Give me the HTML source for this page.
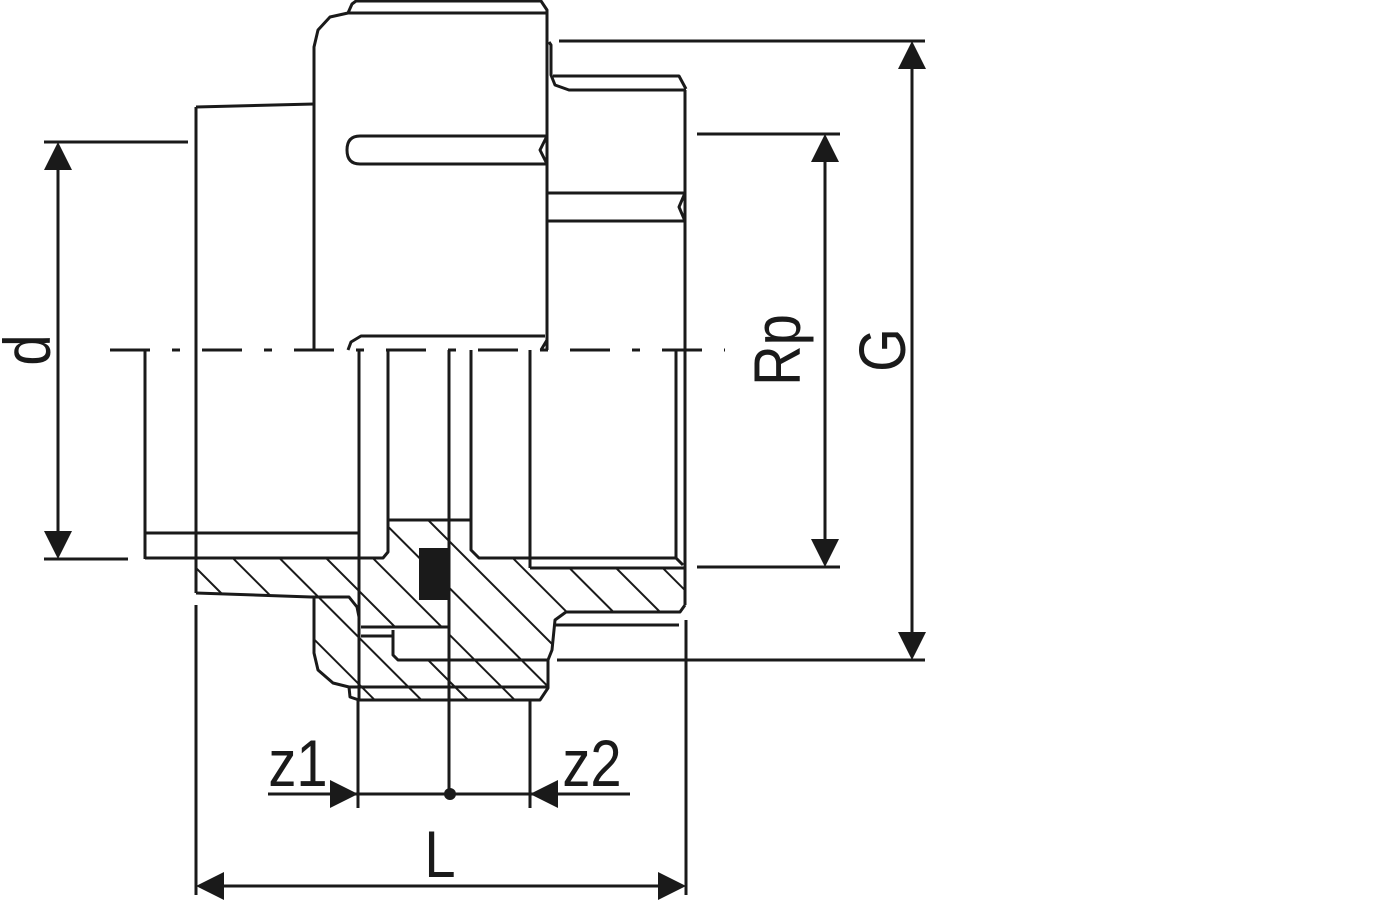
<!DOCTYPE html>
<html><head><meta charset="utf-8"><style>
html,body{margin:0;padding:0;background:#fff;}
svg{display:block;}
text{font-family:"Liberation Sans",sans-serif;fill:#1a1a1a;}
</style></head><body>
<svg width="1400" height="900" viewBox="0 0 1400 900" xmlns="http://www.w3.org/2000/svg">
<defs>
<pattern id="h" patternUnits="userSpaceOnUse" width="33" height="33" patternTransform="rotate(-45)">
<line x1="0" y1="0" x2="0" y2="33" stroke="#1a1a1a" stroke-width="4"/>
</pattern>
</defs>
<g stroke="#1a1a1a" stroke-width="3" fill="none" stroke-linejoin="round">
<polygon fill="url(#h)" stroke="none" points="196,559 388,559 388,520 471,520 471,548 479,558 530,558 530,568 685,568 685,605 680,612 566,612 552,627 552,655 548,688 540,700 359,700 350,697 349,687 333,683 318,670 314,653 314,597 196,593"/>
<rect x="393" y="628" width="56" height="32" fill="#fff" stroke="none"/>
<rect x="359" y="628" width="34" height="8" fill="#fff" stroke="none"/>
<rect x="419" y="548" width="30" height="52" fill="#1a1a1a" stroke="none"/>
<polyline points="196,593 311,597 349,597 357,607 359,617"/>
<polyline points="388,350 388,552 383,558 145,558"/>
<line x1="145" y1="533" x2="359" y2="533"/>
<line x1="145" y1="350" x2="145" y2="559"/>
<line x1="196" y1="107" x2="196" y2="593"/>
<line x1="388" y1="520" x2="471" y2="520"/>
<polyline points="471,350 471,550 479,558 676,558 683,565"/>
<line x1="530" y1="350" x2="530" y2="568"/>
<line x1="530" y1="568" x2="685" y2="568"/>
<line x1="676" y1="350" x2="676" y2="558"/>
<line x1="685" y1="90" x2="685" y2="605"/>
<polyline points="685,605 680,612 566,612 555,620 552,650 548,660"/>
<line x1="554" y1="625" x2="679" y2="625"/>
<polyline points="314,597 314,653 318,670 333,683 349,687 350,697 359,700 540,700 548,688 548,660"/>
<line x1="349" y1="687" x2="548" y2="687"/>
<line x1="361" y1="627" x2="449" y2="627"/>
<line x1="361" y1="636" x2="393" y2="636"/>
<polyline points="393,630 393,655 398,660 548,660"/>
<line x1="359" y1="350" x2="359" y2="700"/>
<polyline points="314,350 314,47 318,30 330,17 348,13 352,4 356,1 541,1 547,10 547,350"/>
<line x1="348" y1="13" x2="547" y2="13"/>
<polyline points="196,107 314,104"/>
<path d="M547,136 L360,136 Q347,136 347,150 Q347,164 360,164 L547,164"/>
<polyline points="547,136 540,150 547,164"/>
<polyline points="348,350 351,342 361,336 545,336"/>
<polyline points="541,350 547,340"/>
<polyline points="549,42 551,45 551,75 555,85 569,90 686,90"/>
<polyline points="553,76 679,76 686,89"/>
<line x1="548" y1="193" x2="685" y2="193"/>
<line x1="548" y1="221" x2="685" y2="221"/>
<polyline points="685,193 679,207 685,221"/>
<line x1="110" y1="350" x2="725" y2="350" stroke-dasharray="40,22,8,22"/>
<line x1="449" y1="350" x2="449" y2="795"/>
<line x1="44" y1="142" x2="188" y2="142"/>
<line x1="44" y1="559" x2="128" y2="559"/>
<line x1="58" y1="150" x2="58" y2="550"/>
<line x1="697" y1="134" x2="840" y2="134"/>
<line x1="697" y1="567" x2="840" y2="567"/>
<line x1="825" y1="140" x2="825" y2="560"/>
<line x1="559" y1="41" x2="925" y2="41"/>
<line x1="557" y1="660" x2="925" y2="660"/>
<line x1="912" y1="48" x2="912" y2="652"/>
<line x1="358" y1="700" x2="358" y2="808"/>
<line x1="530" y1="700" x2="530" y2="808"/>
<line x1="196" y1="605" x2="196" y2="895"/>
<line x1="686" y1="620" x2="686" y2="895"/>
<line x1="268" y1="794" x2="630" y2="794"/>
<line x1="200" y1="886" x2="682" y2="886"/>
</g>
<g fill="#1a1a1a">
<polygon points="58,142 44,170 72,170"/>
<polygon points="58,559 44,531 72,531"/>
<polygon points="825,134 811,162 839,162"/>
<polygon points="825,567 811,539 839,539"/>
<polygon points="912,41 898,69 926,69"/>
<polygon points="912,660 898,632 926,632"/>
<polygon points="358,794 330,780 330,808"/>
<polygon points="530,794 558,780 558,808"/>
<polygon points="196,886 224,872 224,900"/>
<polygon points="686,886 658,872 658,900"/>
<circle cx="450" cy="794" r="6"/>
</g>
<g font-size="66">
<text x="0" y="0" transform="translate(50,350) rotate(-90) scale(0.85,1)" text-anchor="middle">d</text>
<text x="0" y="0" transform="translate(800,350) rotate(-90) scale(0.85,1)" text-anchor="middle">Rp</text>
<text x="0" y="0" transform="translate(905,350) rotate(-90) scale(0.85,1)" text-anchor="middle">G</text>
<text x="0" y="0" transform="translate(298,786) scale(0.85,1)" text-anchor="middle">z1</text>
<text x="0" y="0" transform="translate(592,786) scale(0.85,1)" text-anchor="middle">z2</text>
<text x="0" y="0" transform="translate(440,877) scale(0.85,1)" text-anchor="middle">L</text>
</g>
</svg>
</body></html>
